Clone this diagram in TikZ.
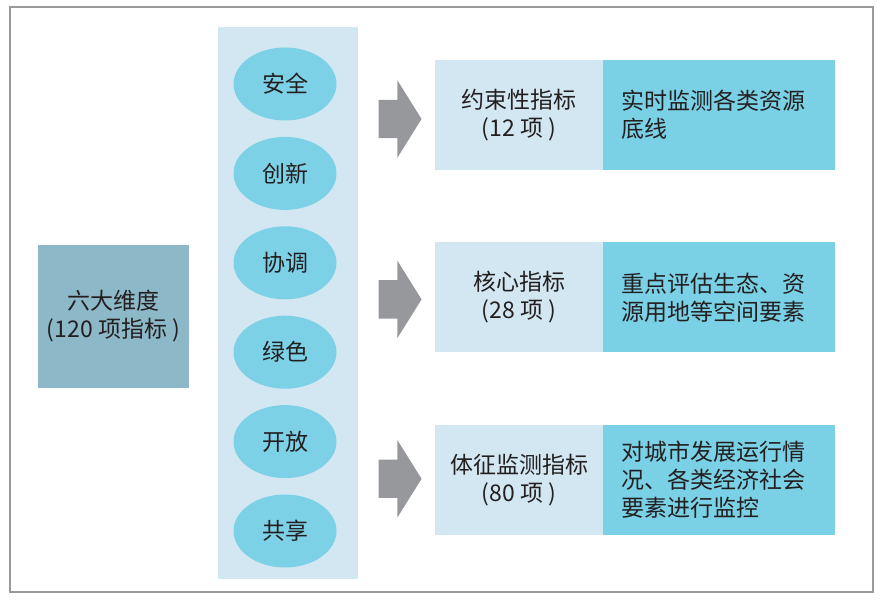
\documentclass[tikz,border=0pt]{standalone}
\usepackage{fontspec}
\setmainfont{Noto Sans CJK SC}
\usetikzlibrary{positioning,shapes.geometric,shapes.arrows}
\definecolor{framegray}{HTML}{9A9A9A}
\definecolor{palecol}{HTML}{D3E7F2}
\definecolor{cyanfill}{HTML}{7DD1E6}
\definecolor{dimfill}{HTML}{8DB8C8}
\definecolor{arrowgray}{HTML}{97989C}
\definecolor{descfill}{HTML}{7AD0E5}
\definecolor{inktext}{HTML}{231F20}

\begin{document}
\begin{tikzpicture}[x=1pt, y=1pt,
	font=\fontsize{23}{28}\selectfont, text=inktext,
	dimbox/.style = { fill=dimfill, minimum width=151pt,
			minimum height=143pt, inner sep=0pt, align=center },
	column/.style = { fill=palecol, minimum width=140pt,
			minimum height=552pt, inner sep=0pt },
	aspect/.style = { ellipse, fill=cyanfill, minimum width=103pt,
			minimum height=73pt, inner sep=0pt },
	kindbox/.style = { fill=palecol, minimum width=168pt,
			minimum height=110pt, inner sep=0pt, align=center },
	descbox/.style = { fill=descfill, text width=196pt, inner xsep=18pt,
			minimum height=110pt, inner ysep=0pt, align=left },
	bigarrow/.style = { single arrow, fill=arrowgray, inner xsep=0pt,
			inner ysep=19pt, minimum height=43pt,
			single arrow head extend=19.5pt, single arrow tip angle=116 }]

  \useasboundingbox (0,0) rectangle (886,601);
  \draw[framegray, line width=1.5pt] (10,594) rectangle (873,9);

  \node[name=dim, dimbox] at (113.5,284.5) {六大维度\\(120 项指标 )};

  \node[name=col, column] at (288,298) {};
  \node[name=safe, aspect] at (285,517) {安全};
  \node[name=innov, aspect, below=16pt of safe] {创新};
  \node[name=coord, aspect, below=16pt of innov] {协调};
  \node[name=green, aspect, below=16pt of coord] {绿色};
  \node[name=open, aspect, below=16pt of green] {开放};
  \node[name=share, aspect, below=16pt of open] {共享};

  \node[name=lim1, kindbox] at (519,486) {约束性指标\\(12 项 )};
  \node[name=desc1, descbox, right=0pt of lim1] {实时监测各类资源\\底线};
  \node[name=lim2, kindbox, below=72pt of lim1] {核心指标\\(28 项 )};
  \node[name=desc2, descbox, right=0pt of lim2] {重点评估生态、资\\源用地等空间要素};
  \node[name=lim3, kindbox, below=72pt of lim2] {体征监测指标\\(80 项 )};
  \node[name=desc3, descbox, right=0pt of lim3]
    {对城市发展运行情\\况、各类经济社会\\要素进行监控};

  \node[name=arr1, bigarrow, left=13pt of lim1, yshift=-4pt] {};
  \node[name=arr2, bigarrow, left=13pt of lim2, yshift=-2pt] {};
  \node[name=arr3, bigarrow, left=13pt of lim3, yshift=1pt] {};
\end{tikzpicture}
\end{document}
